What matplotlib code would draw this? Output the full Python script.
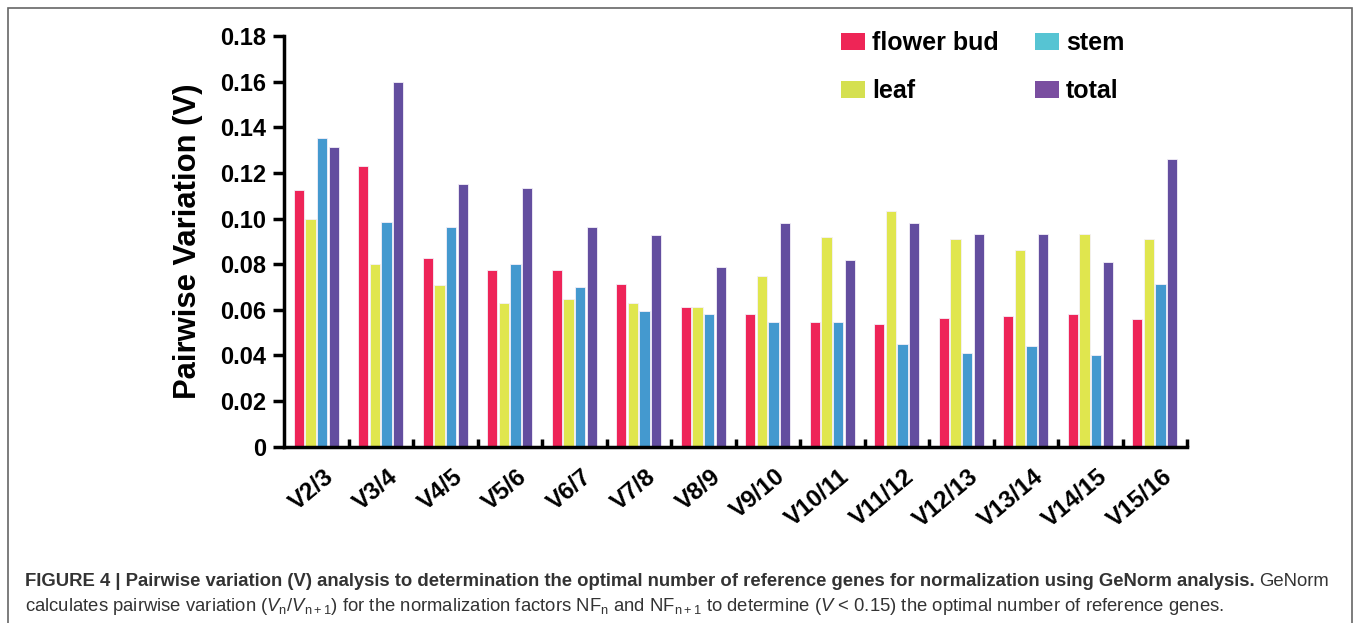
import matplotlib
matplotlib.use("Agg")
import matplotlib.pyplot as plt
import numpy as np
from matplotlib.patches import Rectangle, Patch
from matplotlib.ticker import FixedLocator
from matplotlib.transforms import ScaledTranslation

plt.rcParams['font.family'] = ['Liberation Sans', 'DejaVu Sans']
plt.rcParams['mathtext.fontset'] = 'custom'
plt.rcParams['mathtext.rm'] = 'Liberation Sans'
plt.rcParams['mathtext.it'] = 'Liberation Sans:italic'

categories = ["V2/3", "V3/4", "V4/5", "V5/6", "V6/7", "V7/8", "V8/9", "V9/10",
              "V10/11", "V11/12", "V12/13", "V13/14", "V14/15", "V15/16"]
flower_bud = [0.1125, 0.1232, 0.0827, 0.0773, 0.0773, 0.0715, 0.0611, 0.0580,
              0.0547, 0.0536, 0.0566, 0.0574, 0.0583, 0.0561]
leaf = [0.0999, 0.0802, 0.0709, 0.0630, 0.0647, 0.0630, 0.0611, 0.0747,
        0.0920, 0.1034, 0.0909, 0.0862, 0.0931, 0.0909]
stem = [0.1353, 0.0983, 0.0964, 0.0802, 0.0700, 0.0593, 0.0580, 0.0547,
        0.0547, 0.0450, 0.0409, 0.0441, 0.0400, 0.0712]
total = [0.1313, 0.1600, 0.1150, 0.1134, 0.0964, 0.0928, 0.0789, 0.0980,
         0.0818, 0.0980, 0.0931, 0.0931, 0.0811, 0.1262]
series_names = ["flower bud", "leaf", "stem", "total"]
yticks = [0, 0.02, 0.04, 0.06, 0.08, 0.10, 0.12, 0.14, 0.16, 0.18]
ytick_labels = ["0", "0.02", "0.04", "0.06", "0.08", "0.10", "0.12", "0.14", "0.16", "0.18"]

bar_colors = ["#EE2458", "#E0E64E", "#4499CF", "#634E9F"]
legend_colors = ["#EE2556", "#D5E050", "#56C4D3", "#7A4EA0"]

W, H = 1357, 623
fig = plt.figure(figsize=(W / 100, H / 100), dpi=100)
ax = fig.add_axes([284 / W, 1 - 446.7 / H, (1187 - 284) / W, (446.7 - 36) / H])

x = np.arange(len(categories))
pitch = 0.18
bw = 0.16
for i, (vals, col) in enumerate(zip([flower_bud, leaf, stem, total], bar_colors)):
    ax.bar(x + (i - 1.5) * pitch, vals, width=bw, color=col,
           edgecolor="#F4F0F8", linewidth=0.6, zorder=2)

ax.set_xlim(-0.5, len(categories) - 0.5)
ax.set_ylim(0, 0.18)
for s in ["top", "right"]:
    ax.spines[s].set_visible(False)
for s in ["left", "bottom"]:
    ax.spines[s].set_linewidth(2.5)
    ax.spines[s].set_color("black")

ax.set_yticks(yticks)
ax.set_yticklabels(ytick_labels, fontsize=17, fontweight="bold")
ax.tick_params(axis="y", direction="out", length=8, width=2.5, pad=5)

ax.set_xticks(x)
ax.set_xticklabels(categories, fontsize=17.5, fontweight="bold", rotation=40,
                   ha="right", rotation_mode="anchor")
ax.tick_params(axis="x", which="major", length=0, pad=13)
shift = ScaledTranslation(0.07, 0, fig.dpi_scale_trans)
for lab in ax.get_xticklabels():
    lab.set_transform(lab.get_transform() + shift)
ax.xaxis.set_minor_locator(FixedLocator(np.arange(0.5, len(categories), 1.0)))
ax.tick_params(axis="x", which="minor", direction="in", length=6, width=2.5)

ax.set_ylabel("Pairwise Variation (V)", fontsize=22.3, fontweight="bold", labelpad=12)

handles = [Patch(facecolor=c, edgecolor="none") for c in legend_colors]
leg = ax.legend(handles, series_names, ncol=2, loc="upper left",
                bbox_to_anchor=(0.6168, 1.011), frameon=False,
                borderpad=0, borderaxespad=0,
                prop={"weight": "bold", "size": 18},
                handlelength=0.96, handleheight=0.68, handletextpad=0.3,
                columnspacing=1.42, labelspacing=0.95)

# caption
fs = 13.3
fig.text(25 / W, 1 - 586 / H, "FIGURE 4 | Pairwise variation (V) analysis to determination the optimal number of reference genes for normalization using GeNorm analysis.",
         fontsize=fs, fontweight="bold", color="#333333", va="baseline")
fig.canvas.draw()
t1 = fig.texts[-1]
bb = t1.get_window_extent(fig.canvas.get_renderer())
fig.text(bb.x1 / W + 5 / W, 1 - 586 / H, "GeNorm", fontsize=fs, color="#333333", va="baseline")
fig.text(25 / W, 1 - 611 / H,
         r"calculates pairwise variation ($V_{\mathrm{n}}$/$V_{\mathrm{n+1}}$) for the normalization factors NF$_{\mathrm{n}}$ and NF$_{\mathrm{n+1}}$ to determine ($V$ < 0.15) the optimal number of reference genes.",
         fontsize=fs, color="#333333", va="baseline")

# outer frame
fig.patches.append(Rectangle((8 / W, -0.1), (1352 - 8) / W, 1.1 - 8 / H,
                             transform=fig.transFigure, fill=False,
                             edgecolor="#666666", linewidth=1.2))

fig.savefig("out.png", dpi=100)
